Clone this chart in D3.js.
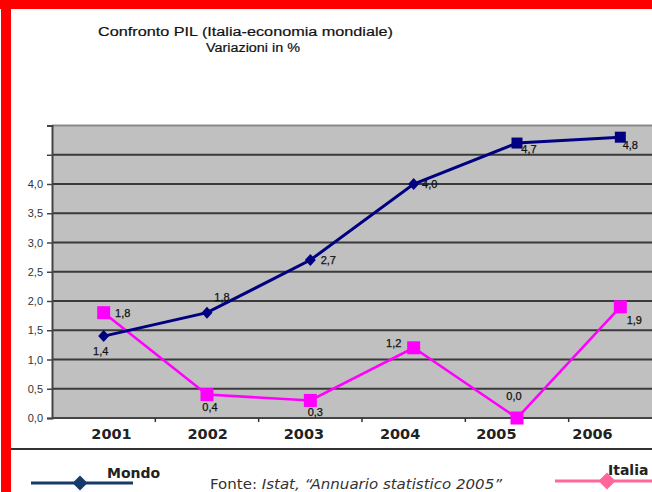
<!DOCTYPE html>
<html lang="it">
  <head>
    <meta charset="UTF-8" />
    <title>Confronto PIL</title>
    <style>
      body { margin: 0; background: #fff; }
      svg { display: block; }
      .ylab { font: 11px "Liberation Sans", Arial, sans-serif; fill: #333; }
      .xlab { font: bold 14.5px "DejaVu Sans", Verdana, sans-serif; fill: #222; }
      .val { font: 11px "Liberation Sans", Arial, sans-serif; fill: #111; stroke: #111; stroke-width: 0.25px; }
      .title { font: 12.5px "Liberation Sans", Arial, sans-serif; fill: #111; stroke: #111; stroke-width: 0.2px; }
      .leg { font: bold 14px "DejaVu Sans", Verdana, sans-serif; fill: #222; }
      .src { font: 14px "DejaVu Sans", Verdana, sans-serif; fill: #333; }
    </style>
  </head>
  <body>
    <svg width="652" height="492"></svg>
    <script src="https://d3js.org/d3.v7.min.js"></script>
    <script>
      // dati
      const years = ["2001", "2002", "2003", "2004", "2005", "2006"];
      const mondo = [1.4, 1.8, 2.7, 4.0, 4.7, 4.8];
      const italia = [1.8, 0.4, 0.3, 1.2, 0.0, 1.9];
      const yTicks = [0, 0.5, 1, 1.5, 2, 2.5, 3, 3.5, 4];
      const gridVals = [0.5, 1, 1.5, 2, 2.5, 3, 3.5, 4, 4.5, 5];

      // posizione delle etichette dei valori (solo stile)
      const mondoOff = [[-3, 15], [15, -16], [18, 0], [16, 0], [12, 6], [10, 8]];
      const italiaOff = [[19, 0], [3, 13], [5, 12], [-20, -5], [-3, -22], [14, 13]];
      const mondoShape = ["d", "d", "d", "d", "s", "s"];

      (function () {
        const svg = d3.select("svg");
        const fmt = (v) => d3.format(".1f")(v).replace(".", ",");

        const pLeft = 52, pRight = 652, pTop = 125.5, pBottom = 418;

        // scale
        const x = d3.scaleBand().domain(years).range([pLeft, 672]);
        const xLab = d3.scalePoint().domain(years).range([111, 592]);
        const y = d3.scaleLinear().domain([0, 5]).range([pBottom, pTop]);
        const cx = (d) => x(d) + x.bandwidth() / 2;

        // cornice rossa
        svg.append("rect").attr("x", 0).attr("y", 0).attr("width", 652).attr("height", 9).attr("fill", "#ff0000");
        svg.append("rect").attr("x", 1).attr("y", 0).attr("width", 10).attr("height", 492).attr("fill", "#ff0000");

        // titolo
        svg.append("text").attr("class", "title").attr("x", 98).attr("y", 36)
          .attr("textLength", 295).attr("lengthAdjust", "spacingAndGlyphs")
          .text("Confronto PIL  (Italia-economia mondiale)");
        svg.append("text").attr("class", "title").attr("x", 206).attr("y", 52)
          .attr("textLength", 94).attr("lengthAdjust", "spacingAndGlyphs")
          .text("Variazioni in %");

        // area del grafico
        svg.append("rect").attr("x", pLeft).attr("y", pTop).attr("width", pRight - pLeft)
          .attr("height", pBottom - pTop).attr("fill", "#c0c0c0");

        // griglia
        svg.append("g").selectAll("line").data(gridVals).join("line")
          .attr("x1", pLeft).attr("x2", pRight)
          .attr("y1", (d) => y(d)).attr("y2", (d) => y(d))
          .attr("stroke", (d) => (d === 5 ? "#8a8a8a" : "#3a3a3a"))
          .attr("stroke-width", 2);

        // asse y
        const yAxis = svg.append("g").attr("transform", "translate(" + pLeft + ",0)")
          .call(d3.axisLeft(y).tickValues(yTicks.concat([4.5, 5])).tickSize(5).tickPadding(4)
            .tickFormat((d) => (yTicks.includes(d) ? fmt(d) : "")));
        yAxis.select(".domain").attr("stroke", "#444").attr("stroke-width", 2);
        yAxis.selectAll(".tick line").attr("stroke", "#444").attr("stroke-width", 1.5);
        yAxis.attr("font-size", null).attr("font-family", null);
        yAxis.selectAll(".tick text").attr("class", "ylab");

        // asse x
        svg.append("line").attr("x1", pLeft).attr("x2", pRight).attr("y1", pBottom).attr("y2", pBottom)
          .attr("stroke", "#444").attr("stroke-width", 2);
        svg.append("g").selectAll("line").data(years.slice(1)).join("line")
          .attr("x1", (d) => x(d)).attr("x2", (d) => x(d))
          .attr("y1", pBottom).attr("y2", pBottom + 4)
          .attr("stroke", "#333").attr("stroke-width", 1.5);
        const xAxis = svg.append("g").attr("transform", "translate(0," + (pBottom + 4) + ")")
          .call(d3.axisBottom(xLab).tickSize(0).tickPadding(7));
        xAxis.select(".domain").remove();
        xAxis.attr("font-size", null).attr("font-family", null);
        xAxis.selectAll(".tick text").attr("class", "xlab");

        // linee
        const line = (arr) => d3.line().x((d, i) => cx(years[i])).y((d) => y(d))(arr);
        svg.append("path").attr("d", line(italia)).attr("fill", "none")
          .attr("stroke", "#ff00ff").attr("stroke-width", 2.5);
        svg.append("path").attr("d", line(mondo)).attr("fill", "none")
          .attr("stroke", "#000080").attr("stroke-width", 3);

        // marcatori Mondo
        svg.append("g").selectAll("path").data(mondo).join("path")
          .attr("transform", (d, i) => "translate(" + cx(years[i]) + "," + y(d) + ")")
          .attr("d", (d, i) => (mondoShape[i] === "d" ? "M0,-6L5.5,0L0,6L-5.5,0Z" : "M-5.5,-5.5H5.5V5.5H-5.5Z"))
          .attr("fill", "#000080");

        // marcatori Italia
        svg.append("g").selectAll("rect").data(italia).join("rect")
          .attr("x", (d, i) => cx(years[i]) - 6.5).attr("y", (d) => y(d) - 6.5)
          .attr("width", 13).attr("height", 13).attr("fill", "#ff00ff");

        // etichette valori
        svg.append("g").selectAll("text").data(mondo).join("text").attr("class", "val")
          .attr("x", (d, i) => cx(years[i]) + mondoOff[i][0])
          .attr("y", (d, i) => y(d) + mondoOff[i][1])
          .attr("text-anchor", "middle").attr("dy", "0.35em").text((d) => fmt(d));
        svg.append("g").selectAll("text").data(italia).join("text").attr("class", "val")
          .attr("x", (d, i) => cx(years[i]) + italiaOff[i][0])
          .attr("y", (d, i) => y(d) + italiaOff[i][1])
          .attr("text-anchor", "middle").attr("dy", "0.35em").text((d) => fmt(d));

        // separatore e legenda
        svg.append("line").attr("x1", 11).attr("x2", 652).attr("y1", 449).attr("y2", 449)
          .attr("stroke", "#333").attr("stroke-width", 2);

        svg.append("line").attr("x1", 31).attr("x2", 133).attr("y1", 483).attr("y2", 483)
          .attr("stroke", "#163a6a").attr("stroke-width", 3);
        svg.append("path").attr("transform", "translate(80,483)")
          .attr("d", "M0,-7.5L7.5,0L0,7.5L-7.5,0Z").attr("fill", "#163a6a");
        svg.append("text").attr("class", "leg").attr("x", 107).attr("y", 478).text("Mondo");

        const src = svg.append("text").attr("class", "src").attr("x", 210).attr("y", 489)
          .attr("textLength", 292).attr("lengthAdjust", "spacingAndGlyphs");
        src.append("tspan").text("Fonte: ");
        src.append("tspan").attr("font-style", "italic").text("Istat, \u201cAnnuario statistico 2005\u201d");

        svg.append("line").attr("x1", 555).attr("x2", 652).attr("y1", 481).attr("y2", 481)
          .attr("stroke", "#ff6699").attr("stroke-width", 3);
        svg.append("path").attr("transform", "translate(607,481)")
          .attr("d", "M0,-8.5L8.5,0L0,8.5L-8.5,0Z").attr("fill", "#ff6699");
        svg.append("text").attr("class", "leg").attr("x", 608).attr("y", 475).text("Italia");
      })();
    </script>
  </body>
</html>
